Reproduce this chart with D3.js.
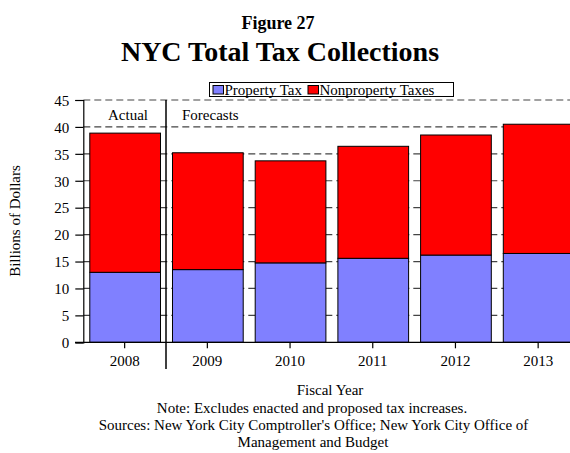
<!DOCTYPE html>
<html><head><meta charset="utf-8">
<script src="https://cdn.jsdelivr.net/npm/d3@7"></script>
<style>
html,body{margin:0;padding:0;background:#fff;}
svg{display:block;font-family:"Liberation Serif","Times New Roman",serif;}
</style></head>
<body><svg id="c" width="570" height="453"></svg>
<script>
const years = ["2008","2009","2010","2011","2012","2013"];
const propertyTax = [13.0, 13.5, 14.75, 15.6, 16.2, 16.5];
const nonpropertyTax = [25.85, 21.7, 18.95, 20.8, 22.3, 24.0];
const yTicks = [0,5,10,15,20,25,30,35,40,45];
const seriesNames = ["Property Tax","Nonproperty Taxes"];
const colors = ["#8080FF","#FF0000"];

const svg = d3.select("#c");
const FF = "Liberation Serif";
const x = d3.scaleBand().domain(years).range([83.3, 579.5]).paddingInner(0.145).paddingOuter(0.0725);
const y = d3.scaleLinear().domain([0,45]).range([342.3, 100]);

// titles
svg.append("text").attr("x",278).attr("y",29).attr("text-anchor","middle")
  .attr("font-weight","bold").attr("font-size",18).text("Figure 27");
svg.append("text").attr("x",280).attr("y",61).attr("text-anchor","middle")
  .attr("font-weight","bold").attr("font-size",28).text("NYC Total Tax Collections");

// gridlines
svg.append("g").selectAll("line").data(yTicks.filter(d=>d>0)).join("line")
  .attr("x1",83.3).attr("x2",570).attr("y1",d=>y(d)).attr("y2",d=>y(d))
  .attr("stroke","#444").attr("stroke-width",1.2).attr("stroke-dasharray","7,4");

// stacked bars
const data = years.map((yr,i)=>({year:yr, p:propertyTax[i], n:nonpropertyTax[i]}));
const stack = d3.stack().keys(["p","n"])(data);
svg.append("g").selectAll("g").data(stack).join("g").attr("fill",(d,i)=>colors[i])
  .selectAll("rect").data(d=>d).join("rect")
  .attr("x",d=>x(d.data.year)+0.5).attr("width",x.bandwidth())
  .attr("y",d=>y(d[1])).attr("height",d=>y(d[0])-y(d[1]))
  .attr("stroke","#000").attr("stroke-width",1);

// y axis
const ya = svg.append("g").attr("transform","translate(83.3,0)")
  .call(d3.axisLeft(y).tickValues(yTicks).tickSize(8).tickPadding(6));
ya.attr("font-family",FF).attr("font-size",15);
ya.select(".domain").attr("stroke","#000").attr("stroke-width",1.2);
ya.selectAll(".tick line").attr("stroke","#000").attr("stroke-width",1.2);
ya.selectAll("text").attr("fill","#000").attr("dy","0.35em");

// x axis
const xa = svg.append("g").attr("transform","translate(0,342.3)")
  .call(d3.axisBottom(x).tickSize(6).tickPadding(7));
xa.attr("font-family",FF).attr("font-size",15);
xa.select(".domain").remove();
svg.append("line").attr("x1",75).attr("x2",570).attr("y1",342.3).attr("y2",342.3).attr("stroke","#000").attr("stroke-width",1.2);
xa.selectAll(".tick line").attr("stroke","#000").attr("stroke-width",1.2);
xa.selectAll("text").attr("fill","#000");

// divider actual/forecast
const divX = x(years[1]) - x.step()*x.paddingInner()/2;
svg.append("line").attr("x1",divX).attr("x2",divX).attr("y1",100).attr("y2",369)
  .attr("stroke","#000").attr("stroke-width",1.5);
svg.append("text").attr("x",128).attr("y",120).attr("text-anchor","middle").attr("font-size",15).text("Actual");
svg.append("text").attr("x",182).attr("y",120).attr("font-size",15).text("Forecasts");

// y label
svg.append("text").attr("transform","translate(20,221) rotate(-90)").attr("text-anchor","middle")
  .attr("font-size",15).text("Billions of Dollars");

// legend
const lg = svg.append("g");
lg.append("rect").attr("x",209.5).attr("y",82.5).attr("width",244).attr("height",14)
  .attr("fill","#fff").attr("stroke","#000").attr("stroke-width",1);
const legX = [213, 308];
seriesNames.forEach((s,i)=>{
  lg.append("rect").attr("x",legX[i]).attr("y",85.5).attr("width",10.5).attr("height",8.5)
    .attr("fill",colors[i]).attr("stroke","#000").attr("stroke-width",1);
  lg.append("text").attr("x",legX[i]+11.5).attr("y",94.5).attr("font-size",15).text(s);
});

// footer
const foot = [
  ["Fiscal Year",330,395],
  ["Note: Excludes enacted and proposed tax increases.",312,413],
  ["Sources: New York City Comptroller's Office; New York City Office of",313.5,430],
  ["Management and Budget",313,447]
];
foot.forEach(f=>svg.append("text").attr("x",f[1]).attr("y",f[2]).attr("text-anchor","middle").attr("font-size",15).text(f[0]));
</script></body></html>
